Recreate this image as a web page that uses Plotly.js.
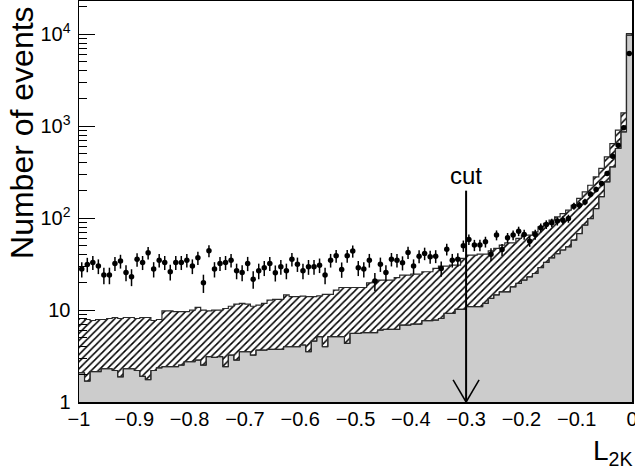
<!DOCTYPE html>
<html><head><meta charset="utf-8">
<script src="https://cdn.plot.ly/plotly-3.0.1.min.js"></script>
<style>html,body{margin:0;padding:0;background:#fff}</style>
</head><body><div id="chart" style="width:635px;height:474px"></div>
<script>
const nBins = 100;
const xMin = -1, xMax = 0;

const dataCounts = [27.9,31.4,33,30.1,24,24,32.2,34.1,25.7,23,
35.6,33,42,27.9,34.9,33,26.1,33,33,34.9,
30.1,37,19.8,44.1,27.9,32.2,33,34.9,26.8,25.7,
32.2,21.7,26.8,28.8,32.2,25.5,29.6,26.8,35.8,31.6,
26.8,29.6,29.6,30.8,24,34.9,38.9,27.7,38.9,43.8,
28.8,27.9,34.9,20.7,31.6,25.7,35.8,34.9,32.7,42.4,
30.1,38.6,41.3,38,38.6,28.4,46,34.9,35.6,50,
58.6,50.9,50.9,55.3,40.6,65.4,45.6,61.1,65.4,72.2,
66.4,56.2,66.4,78.5,85.4,89,92.8,95,99,135,
138,150,182,205,238,306,472,621,960,6170];

const upperHist = [8.1,7.9,7.7,7.9,7.9,8.1,8.3,8.1,8.3,8.3,
8.1,8.3,8.3,7.7,7.9,9.8,9.8,9.6,9.6,9.6,
10.0,10.7,10.0,9.8,10.0,10.0,10.4,11.0,11.6,11.8,
11.6,11.0,11.3,11.8,12.8,13.1,13.1,14.6,14.0,14.0,
14.2,14.0,14.0,14.3,14.8,14.8,16.5,17.6,17.6,17.6,
17.6,17.6,19.8,20.3,21.2,21.2,21.2,22.5,24.0,24.0,
24.6,24.6,26.1,26.1,28.4,30.1,30.1,30.8,30.8,36.5,
39.6,39.6,40.6,40.6,44.1,46.8,50.9,53.9,53.9,60.1,
65.4,65.4,71.0,80.5,87.5,95,103,112,122,138,
164,193,228,281,347,464,648,905,1400,10200];

const lowerHist = [2.08,1.69,2.14,2.14,2.3,2.3,2.2,1.88,2.3,2.3,
2.2,1.9,1.75,2.2,2.35,2.42,2.42,2.42,2.52,2.74,
2.74,2.86,2.52,3.11,3.06,3.11,2.42,3.24,2.86,3.52,
3.52,3.24,3.67,3.67,3.74,3.74,3.74,3.99,3.99,3.99,
4.17,3.52,4.6,5.13,3.99,5.13,5.13,5.13,4.34,5.57,
5.57,5.67,5.67,5.67,6.06,6.17,6.17,6.17,6.87,6.87,
7.04,7.04,7.66,7.66,7.79,8.1,9.2,9.2,10.2,10.2,
10.9,10.9,10.9,11.8,13.4,14.6,15.8,15.8,17.9,19.5,
21.2,23,25,29,33,37,41,45,48.8,57.7,
68,84,99,127,171,248,361,572,867,9800];

const xTickVals = [-1,-0.9,-0.8,-0.7,-0.6,-0.5,-0.4,-0.3,-0.2,-0.1,0];
const xTickText = ["\u22121","\u22120.9","\u22120.8","\u22120.7","\u22120.6","\u22120.5","\u22120.4","\u22120.3","\u22120.2","\u22120.1","0"];
const yTickVals = [1,10,100,1000,10000];
const yTickText = ["1","10","10<sup>2</sup>","10<sup>3</sup>","10<sup>4</sup>"];
const cutValue = -0.3;

const binWidth = (xMax - xMin) / nBins;
const binEdges = Array.from({length: nBins}, (_, i) => xMin + i * binWidth);
const binCenters = binEdges.map(e => e + binWidth / 2);
const stepX = binEdges.concat([xMax]);
const stepLower = lowerHist.concat([lowerHist[nBins - 1]]);
const stepUpper = upperHist.concat([upperHist[nBins - 1]]);

const minorVals = [];
for (let d = 1; d <= 10000; d *= 10) for (let m = 2; m <= 9; m++) minorVals.push(d * m);

const fontFam = "Liberation Sans, Arial, Helvetica, sans-serif";
const outline = '#2a2a2a';

const traces = [
  {type: 'bar', x: binCenters, y: lowerHist, width: binWidth,
   marker: {color: '#cccccc', line: {width: 0}}, hoverinfo: 'skip'},
  {type: 'scatter', mode: 'lines', x: stepX, y: stepLower,
   line: {shape: 'hv', color: outline, width: 1}, hoverinfo: 'skip'},
  {type: 'scatter', mode: 'lines', x: stepX, y: stepUpper,
   line: {shape: 'hv', color: outline, width: 1.2}, fill: 'tonexty', fillcolor: 'white',
   fillpattern: {shape: '/', fgcolor: '#000000', bgcolor: 'white', size: 5, solidity: 0.3},
   hoverinfo: 'skip'},
  {type: 'scatter', mode: 'lines', x: stepX, y: stepLower,
   line: {shape: 'hv', color: outline, width: 1.2}, hoverinfo: 'skip'},
  {type: 'scatter', mode: 'markers', x: binCenters, y: dataCounts,
   marker: {color: '#000', size: 5.5, symbol: 'circle'},
   error_y: {type: 'sqrt', visible: true, color: '#000', thickness: 1.5, width: 0},
   hoverinfo: 'skip'}
];

const layout = {
  width: 635, height: 474,
  margin: {l: 79, r: 3, t: 1, b: 72, pad: 0},
  paper_bgcolor: 'white', plot_bgcolor: 'white',
  showlegend: false, hovermode: false, bargap: 0,
  xaxis: {range: [xMin, xMax], tickmode: 'array', tickvals: xTickVals, ticktext: xTickText,
    ticks: '', showline: true, linecolor: '#000', linewidth: 1.5, mirror: true,
    showgrid: false, zeroline: false, ticklabeloverflow: 'allow', ticklabelstandoff: -2,
    tickfont: {family: fontFam, size: 20, color: '#000'}},
  yaxis: {type: 'log', range: [0, 4.362], tickmode: 'array', tickvals: yTickVals, ticktext: yTickText,
    ticks: 'inside', ticklen: 16, tickwidth: 1, tickcolor: '#000',
    showline: true, linecolor: '#000', linewidth: 1.5, mirror: true,
    showgrid: false, zeroline: false, ticklabelstandoff: 3,
    tickfont: {family: fontFam, size: 20, color: '#000'},
    minor: {tickmode: 'array', tickvals: minorVals, ticks: 'inside', ticklen: 8, tickwidth: 1, tickcolor: '#000', showgrid: false}},
  annotations: [
    {text: 'Number of events', xref: 'paper', yref: 'paper', x: -0.103, y: 0.671,
     xanchor: 'center', yanchor: 'middle', textangle: -90, showarrow: false,
     font: {family: fontFam, size: 32, color: '#000'}},
    {text: 'L<sub>2K</sub>', xref: 'paper', yref: 'paper', x: 1.005, y: -0.125,
     xanchor: 'right', yanchor: 'middle', showarrow: false,
     font: {family: fontFam, size: 28, color: '#000'}},
    {text: 'cut', xref: 'x', yref: 'paper', x: cutValue, y: 0.566,
     xanchor: 'center', yanchor: 'middle', showarrow: false,
     font: {family: fontFam, size: 24, color: '#000'}}
  ],
  shapes: [
    {type: 'line', xref: 'x', yref: 'paper', x0: cutValue, x1: cutValue, y0: 0.527, y1: 0,
     line: {color: '#000', width: 2}},
    {type: 'line', xref: 'x', yref: 'paper', x0: cutValue - 0.0235, x1: cutValue, y0: 0.055, y1: 0,
     line: {color: '#000', width: 1.5}},
    {type: 'line', xref: 'x', yref: 'paper', x0: cutValue + 0.0235, x1: cutValue, y0: 0.055, y1: 0,
     line: {color: '#000', width: 1.5}}
  ]
};

Plotly.newPlot('chart', traces, layout, {staticPlot: true, displayModeBar: false});
</script></body></html>
